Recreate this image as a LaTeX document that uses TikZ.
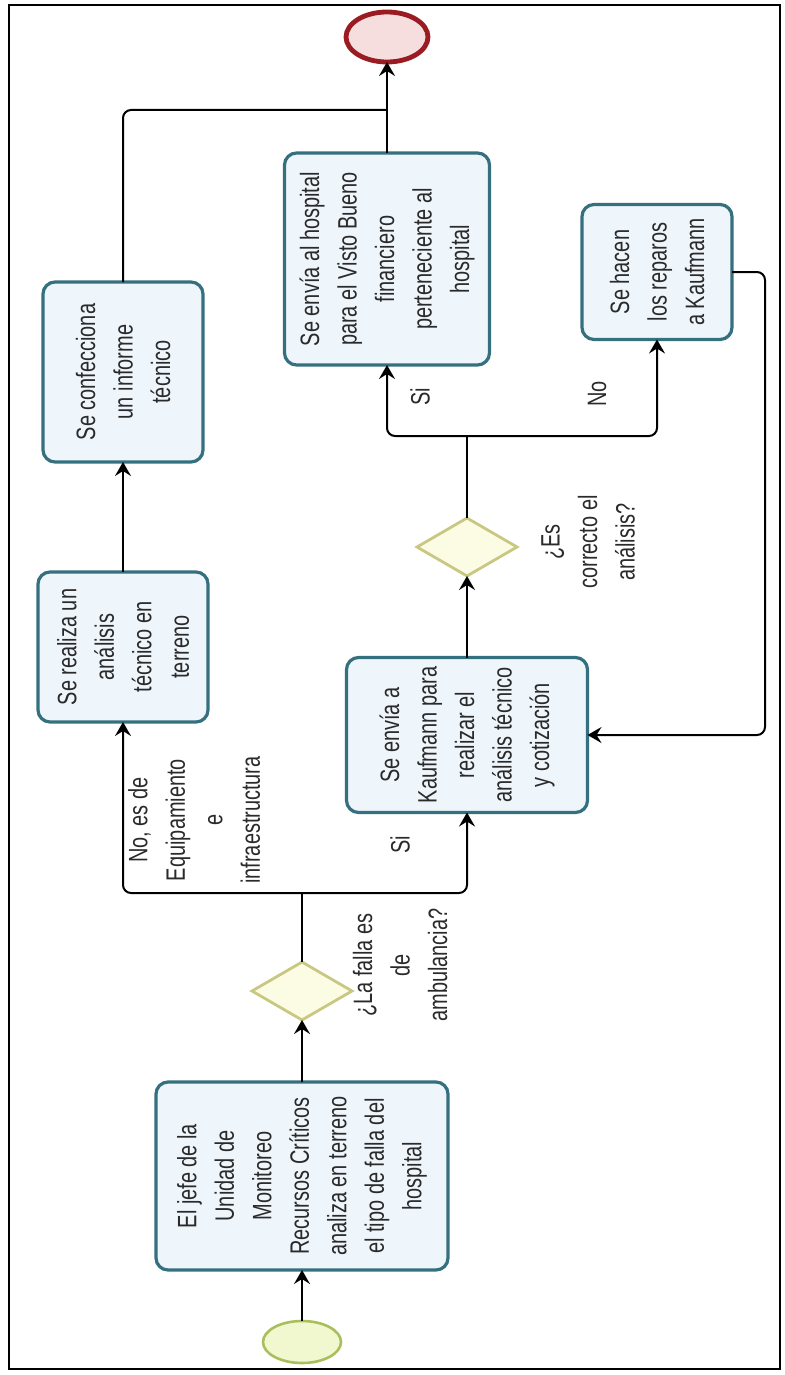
\documentclass[tikz,border=0pt]{standalone}
\usepackage{fontspec}
\setmainfont[FakeStretch=0.75]{Liberation Sans}
\usetikzlibrary{shapes.geometric,arrows.meta}
\definecolor{taskline}{HTML}{35707F}
\definecolor{taskfill}{HTML}{EEF5FB}
\definecolor{gateline}{HTML}{C8C882}
\definecolor{gatefill}{HTML}{FCFCE4}
\definecolor{startline}{HTML}{A9BF5C}
\definecolor{startfill}{HTML}{F1F8D0}
\definecolor{endline}{HTML}{9A1C22}
\definecolor{endfill}{HTML}{F6DEDE}
\definecolor{textgray}{HTML}{2A2A2A}
\begin{document}
\begin{tikzpicture}[x=0.5pt,y=-0.5pt,inner sep=0pt,outer sep=0pt,
font=\fontsize{13.3}{18.75}\selectfont,
>={Stealth[length=7pt,width=8pt,inset=2.5pt]},
task/.style={draw=taskline,fill=taskfill,rectangle,rounded corners=6pt,line width=1.6pt,rotate=90,align=center,text=textgray},
gate/.style={draw=gateline,fill=gatefill,diamond,line width=1.4pt,minimum width=50pt,minimum height=29pt},
startev/.style={draw=startline,fill=startfill,ellipse,line width=1.3pt,minimum width=39pt,minimum height=21pt},
endev/.style={draw=endline,fill=endfill,ellipse,line width=2.4pt,minimum width=41pt,minimum height=25pt},
lbl/.style={rotate=90,align=center,text=textgray},
flow/.style={->,line width=1pt,rounded corners=4pt},
flowplain/.style={line width=1pt,rounded corners=4pt}]
\useasboundingbox (0,0) rectangle (784,1375);
\draw[line width=0.8pt] (9,5) rectangle (780,1369);
% eventos y compuertas
\draw (302,1342) node[startev] (inicio) {};
\draw (387,37) node[endev] (fin) {};
\draw (302,991) node[gate] (falla) {};
\draw (467,547) node[gate] (correcto) {};
% tareas
\draw (302,1176) node[task,minimum width=94pt,minimum height=146pt] (jefe) {El jefe de la\\Unidad de\\Monitoreo\\Recursos Críticos\\analiza en terreno\\el tipo de falla del\\hospital};
\draw (123,647) node[task,minimum width=75pt,minimum height=85pt] (realiza) {Se realiza un\\análisis\\técnico en\\terreno};
\draw (123,372) node[task,minimum width=90pt,minimum height=80pt] (informe) {Se confecciona\\un informe\\técnico};
\draw (467,735) node[task,minimum width=77.5pt,minimum height=120.5pt] (kaufmann) {Se envía a\\Kaufmann para\\realizar el\\análisis técnico\\y cotización};
\draw (387,259) node[task,minimum width=106pt,minimum height=102.5pt] (hospital) {Se envía al hospital\\para el Visto Bueno\\financiero\\perteneciente al\\hospital};
\draw (657,272) node[task,minimum width=67.5pt,minimum height=75pt] (reparos) {Se hacen\\los reparos\\a Kaufmann};
% etiquetas
\draw (400,965) node[lbl] (lfalla) {¿La falla es\\de\\ambulancia?};
\draw (194,820) node[lbl] (lno1) {No, es de\\Equipamiento\\e\\infraestructura};
\draw (400,845) node[lbl] (lsi1) {Si};
\draw (588,542) node[lbl] (lcorrecto) {¿Es\\correcto el\\análisis?};
\draw (420,397) node[lbl] (lsi2) {Si};
\draw (597,394) node[lbl] (lno2) {No};
% puntos de union
\coordinate (j1) at (302,893);
\coordinate (j2) at (467,436);
\coordinate (m1) at (387,110);
\coordinate (c1) at (765,272);
% flujos
\draw[flow] (inicio) -- (jefe);
\draw[flow] (jefe) -- (falla);
\draw[flowplain] (falla) -- (j1);
\draw[flow] (j1) -| (realiza);
\draw[flow] (j1) -| (kaufmann);
\draw[flow] (realiza) -- (informe);
\draw[flowplain] (informe) |- (m1);
\draw[flow] (hospital) -- (fin);
\draw[flow] (kaufmann) -- (correcto);
\draw[flowplain] (correcto) -- (j2);
\draw[flow] (j2) -| (hospital);
\draw[flow] (j2) -| (reparos);
\draw[flow] (reparos) -- (c1) |- (kaufmann);
\end{tikzpicture}
\end{document}
